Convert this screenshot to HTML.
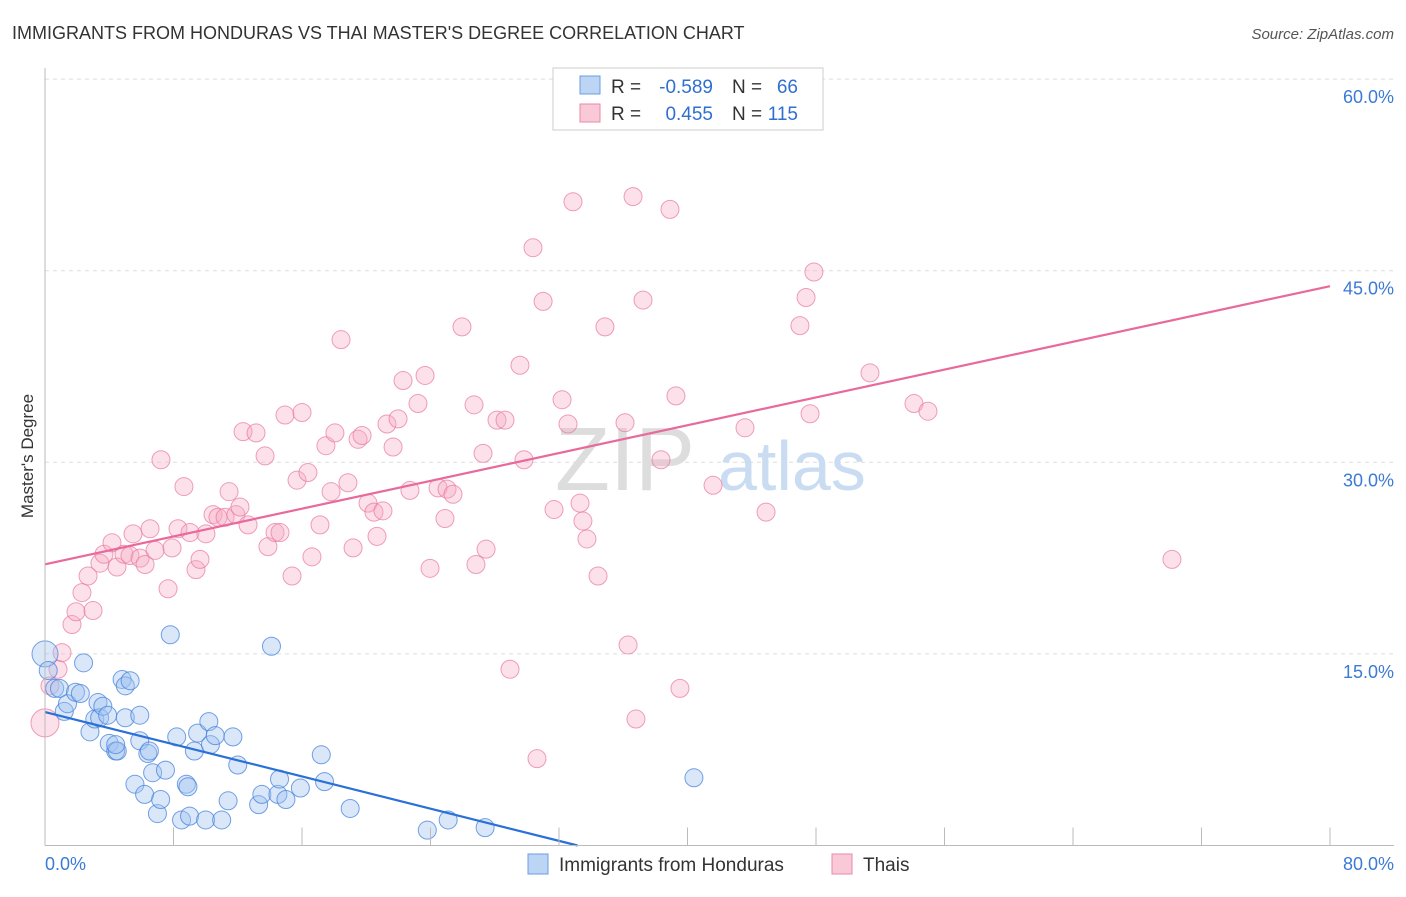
<!DOCTYPE html>
<html><head><meta charset="utf-8"><style>
body{margin:0;background:#fff;font-family:"Liberation Sans",sans-serif;}
svg text{font-family:"Liberation Sans",sans-serif;}
</style></head><body>
<svg width="1406" height="892" xmlns="http://www.w3.org/2000/svg">
<text x="12" y="39" font-size="18" fill="#333">IMMIGRANTS FROM HONDURAS VS THAI MASTER'S DEGREE CORRELATION CHART</text>
<text x="1394" y="39" font-size="15" fill="#555" font-style="italic" text-anchor="end">Source: ZipAtlas.com</text>
<text x="33" y="456" font-size="17" fill="#333" text-anchor="middle" transform="rotate(-90 33 456)">Master's Degree</text>
<g id="grid"></g>
<text x="555" y="490" font-size="90" fill="#ddd" font-family="Liberation Serif">ZIP</text>
<text x="718" y="490" font-size="70" fill="#c9dcf2">atlas</text>
<g id="pts"></g>
<g id="lines"></g>
<g id="axes"></g>
<g>
<rect x="553" y="68" width="270" height="62" fill="#fff" stroke="#ccc"/>
<rect x="580" y="76" width="20" height="18" fill="#bdd5f5" stroke="#6c9ce0"/>
<rect x="580" y="104" width="20" height="18" fill="#f9c9d8" stroke="#e88aa8"/>
<text x="611" y="93" font-size="19" fill="#333">R =</text>
<text x="713" y="93" font-size="19" fill="#2f6fd0" text-anchor="end">-0.589</text>
<text x="732" y="93" font-size="19" fill="#333">N =</text>
<text x="798" y="93" font-size="19" fill="#2f6fd0" text-anchor="end">66</text>
<text x="611" y="120" font-size="19" fill="#333">R =</text>
<text x="713" y="120" font-size="19" fill="#2f6fd0" text-anchor="end">0.455</text>
<text x="732" y="120" font-size="19" fill="#333">N =</text>
<text x="798" y="120" font-size="19" fill="#2f6fd0" text-anchor="end">115</text>
</g>
<g>
<rect x="528" y="854" width="20" height="20" fill="#bdd5f5" stroke="#6c9ce0"/>
<text x="559" y="871" font-size="19" fill="#333">Immigrants from Honduras</text>
<rect x="832" y="854" width="20" height="20" fill="#f9c9d8" stroke="#e88aa8"/>
<text x="863" y="871" font-size="19" fill="#333">Thais</text>
</g>
</svg>
<script>
const xTicks=[0,80];
const yTicks=[15,30,45,60];
const blueX=[0,0.2,0.6,0.9,1.2,1.4,1.9,2.2,2.4,2.8,3.1,3.3,3.4,3.6,3.9,4,4.4,4.5,4.8,5,5.3,5.0,5.9,5.9,6.4,6.5,5.6,6.2,6.7,7,7.2,7.5,7.8,8.2,8.5,8.8,8.9,9,9.3,9.5,10,10.2,10.3,10.6,11,11.4,11.7,12,13.3,13.5,14.1,14.5,14.6,15,15.9,17.2,17.4,19,23.8,25.1,27.4,40.4,4.4];
const blueY=[15,13.7,12.3,12.3,10.5,11.1,12,11.9,14.3,8.9,9.9,11.2,10,10.9,10.2,8,7.4,7.4,13,12.5,12.9,10,10.2,8.2,7.2,7.4,4.8,4,5.7,2.5,3.6,5.9,16.5,8.5,2,4.8,4.6,2.3,7.4,8.8,2,9.7,7.9,8.6,2,3.5,8.5,6.3,3.2,4,15.6,4,5.2,3.6,4.5,7.1,5,2.9,1.2,2,1.4,5.3,7.9];
const pinkX=[0,0.31,0.81,1.06,1.68,1.93,2.3,2.68,2.99,3.42,3.67,4.17,4.48,4.92,5.29,5.48,5.92,6.23,6.54,6.85,7.22,7.66,7.91,8.28,8.65,9.03,9.4,9.65,10.02,10.46,10.77,11.21,11.46,11.89,12.14,12.33,12.64,13.14,13.7,13.88,14.32,14.63,14.94,15.38,15.69,16,16.37,16.62,17.12,17.49,17.81,18.05,18.43,18.86,19.18,19.49,19.74,20.11,20.48,20.67,21.04,21.29,21.67,21.98,22.29,22.72,23.22,23.66,23.97,24.47,24.9,25.03,25.4,25.96,26.71,26.83,27.27,27.46,28.14,28.64,28.95,29.57,29.82,30.38,30.63,31.01,31.69,32.19,32.56,32.87,33.31,33.49,33.74,34.43,34.86,36.11,36.3,36.61,36.79,37.23,38.35,38.91,39.28,39.53,41.59,43.58,44.89,47,47.38,47.63,47.87,51.36,54.1,54.97,70.16];
const pinkY=[9.6,12.5,13.8,15.1,17.3,18.3,19.8,21.1,18.4,22.1,22.8,23.7,21.8,22.8,22.7,24.4,22.5,22,24.8,23.1,30.2,20.1,23.3,24.8,28.1,24.5,21.6,22.4,24.4,25.9,25.7,25.7,27.7,25.9,26.5,32.4,25.1,32.3,30.5,23.4,24.5,24.5,33.7,21.1,28.6,33.9,29.2,22.6,25.1,31.3,27.7,32.3,39.6,28.4,23.3,31.8,32.1,26.8,26.1,24.2,26.2,33,31.2,33.4,36.4,27.8,34.6,36.8,21.7,28,25.6,27.9,27.5,40.6,34.5,22,30.7,23.2,33.3,33.3,13.8,37.6,30.2,46.8,6.8,42.6,26.3,34.9,33,50.4,26.8,25.4,24,21.1,40.6,33.1,15.7,50.8,9.9,42.7,30.2,49.8,35.2,12.3,28.2,32.7,26.1,40.7,42.9,33.8,44.9,37,34.6,34,22.4];
const X0=45,X1=1330,Y0=845.5,YS=191.6/15;
function px(v){return X0+(X1-X0)*v/80;}
function py(v){return Y0-v*YS;}
const NS="http://www.w3.org/2000/svg";
function mk(tag,attrs,parent){const e=document.createElementNS(NS,tag);for(const k in attrs)e.setAttribute(k,attrs[k]);parent.appendChild(e);return e;}
const grid=document.getElementById('grid'),axes=document.getElementById('axes'),pts=document.getElementById('pts'),lines=document.getElementById('lines');
yTicks.forEach(t=>{
 const l=mk('line',{x1:X0,x2:1394,y1:py(t),y2:py(t),stroke:'#ddd','stroke-dasharray':'4,4'},grid);
 
 
 const tx=mk('text',{x:1394,y:py(t)+24,'font-size':18,fill:'#3b7ad6','text-anchor':'end'},axes);
 tx.textContent=t.toFixed(1)+'%';
 
 
});
mk('line',{x1:X0,x2:X0,y1:68,y2:Y0,stroke:'#bbb'},axes);
mk('line',{x1:X0,x2:1394,y1:Y0,y2:Y0,stroke:'#bbb'},axes);
for(let i=1;i<=10;i++){mk('line',{x1:px(i*8),x2:px(i*8),y1:Y0-18,y2:Y0,stroke:'#bbb'},axes);}
xTicks.forEach((t,i)=>{
 const tx=mk('text',{x:i?1394:45,y:870,'font-size':18,fill:'#3b7ad6','text-anchor':i?'end':'start'},axes);
 tx.textContent=t.toFixed(1)+'%';
 
 
});
function fit(xs,ys){const n=xs.length;let mx=0,my=0;xs.forEach((v,i)=>{mx+=v;my+=ys[i];});mx/=n;my/=n;let a=0,b=0;xs.forEach((v,i)=>{a+=(v-mx)*(ys[i]-my);b+=(v-mx)*(v-mx);});const s=a/b;return [s,my-s*mx];}
pinkX.forEach((v,i)=>{
 const c=mk('circle',{cx:px(v),cy:py(pinkY[i]),r:i==0?14:9,fill:'rgba(246,170,195,0.35)',stroke:'rgba(232,120,155,0.7)','stroke-width':1},pts);
 
 
});
blueX.forEach((v,i)=>{
 const c=mk('circle',{cx:px(v),cy:py(blueY[i]),r:i==0?13:9,fill:'rgba(160,195,240,0.4)',stroke:'rgba(70,130,220,0.75)','stroke-width':1},pts);
 
 
});
let [s,b]=fit(pinkX,pinkY);
const pl=mk('line',{x1:px(0),y1:py(b),x2:px(80),y2:py(b+80*s),stroke:'#e8699a','stroke-width':2.2},lines);


[s,b]=fit(blueX,blueY);
const xe=Math.min(80,-b/s);
const bl=mk('line',{x1:px(0),y1:py(b),x2:px(xe),y2:py(b+xe*s),stroke:'#2a70d6','stroke-width':2.2},lines);


</script>
</body></html>
